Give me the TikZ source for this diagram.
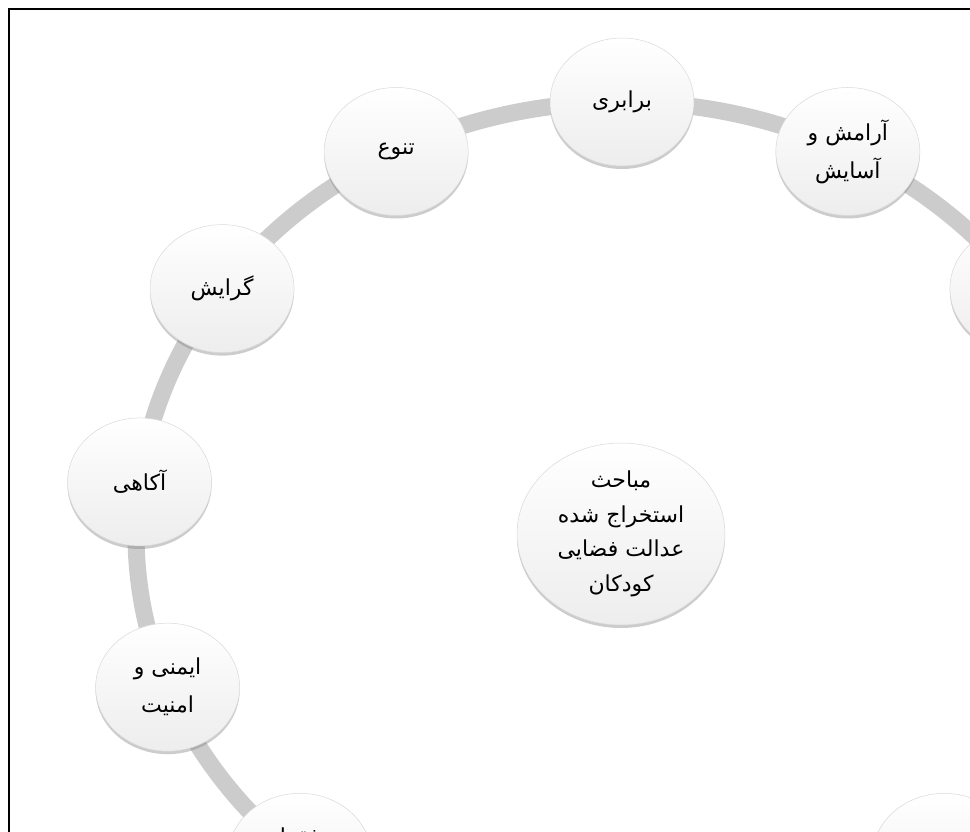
\documentclass[tikz,border=0pt]{standalone}
\usepackage{fontspec}
\usetikzlibrary{shapes.geometric,shadows}
\newfontfamily\arabicfont[Script=Arabic]{DejaVu Sans}
\TeXXeTstate=1
\tikzset{
  ringline/.style={draw=gray!40, line width=17pt},
  bubble/.style={ellipse, minimum width=144pt, minimum height=128pt, inner sep=0pt,
    top color=white, bottom color=gray!14, draw=gray!30, line width=0.5pt,
    drop shadow={shadow xshift=0pt, shadow yshift=-3pt, opacity=0.4},
    font=\arabicfont\fontsize{22}{38}\selectfont, align=center, text=black},
  bigbubble/.style={bubble, minimum width=208pt, minimum height=182pt,
    font=\arabicfont\fontsize{22}{34.5}\selectfont},
  frameline/.style={draw=black, line width=2.5pt}
}
\newcommand{\rtl}[1]{\beginR #1\endR}
\begin{document}
\begin{tikzpicture}[x=1pt,y=-1pt]
\useasboundingbox (0,0) rectangle (970,832);
\fill[white] (0,0) rectangle (970,832);
\begin{scope}
\clip (9,9) rectangle (975,840);
\draw[ringline] (622,534) ellipse [x radius=486, y radius=432];
\def\cx{622}\def\cy{534}\def\rx{486}\def\ry{432}
\node[bubble] (barabari) at ({\cx+\rx*cos(90)},{\cy-\ry*sin(90)}) {\rtl{برابری}};
\node[bubble] (tanavo) at ({\cx+\rx*cos(117.6923)},{\cy-\ry*sin(117.6923)}) {\rtl{تنوع}};
\node[bubble] (gerayesh) at ({\cx+\rx*cos(145.3846)},{\cy-\ry*sin(145.3846)}) {\rtl{گرایش}};
\node[bubble] (agahi) at ({\cx+\rx*cos(173.0769)},{\cy-\ry*sin(173.0769)}) {\rtl{آکاهی}};
\node[bubble] (imeni) at ({\cx+\rx*cos(200.7692)},{\cy-\ry*sin(200.7692)}) {\rtl{ایمنی و}\\\rtl{امنیت}};
\node[bubble] (foqara) at ({\cx+\rx*cos(228.4615)},{\cy-\ry*sin(228.4615)}) {\raisebox{42pt}{\rtl{فقرا}}};
\node[bubble] (aramesh) at ({\cx+\rx*cos(62.3077)},{\cy-\ry*sin(62.3077)}) {\rtl{آرامش و}\\\rtl{آسایش}};
\node[bubble] (rightnode) at ({\cx+\rx*cos(34.6154)},{\cy-\ry*sin(34.6154)}) {};
\node[bubble] (bottomright) at ({\cx+\rx*cos(-48.4615)},{\cy-\ry*sin(-48.4615)}) {};
\node[bigbubble] (center) at (621,534) {\rtl{مباحث}\\\rtl{استخراج شده}\\\rtl{عدالت فضایی}\\\rtl{کودکان}};
\end{scope}
\draw[frameline] (9,840) -- (9,9) -- (975,9);
\end{tikzpicture}
\end{document}
